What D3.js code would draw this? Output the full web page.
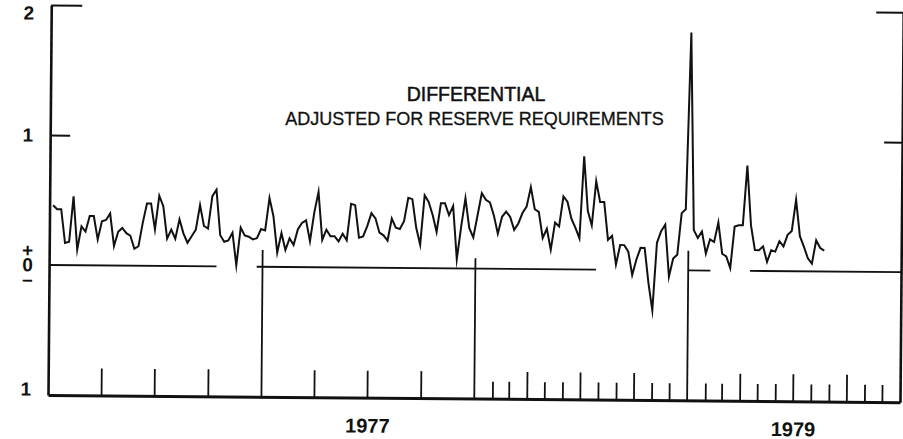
<!DOCTYPE html>
<html>
<head>
<meta charset="utf-8">
<script src="https://cdn.jsdelivr.net/npm/d3@7"></script>
<style>
  body { margin: 0; background: #fff; }
  svg { display: block; }
  text { font-family: "Liberation Sans", Arial, sans-serif; fill: #111; }
</style>
</head>
<body>
<svg width="903" height="439"></svg>
<script>
// weekly values (Wednesdays), percentage points
const values1976 = [0.46,0.43,0.43,0.17,0.18,0.53,0.12,0.30,0.26,0.38, 0.38,0.20,0.34,0.35,0.40,0.15,0.26,0.29,0.25,0.23,
  0.13,0.15,0.33,0.48,0.48,0.28,0.54,0.46,0.21,0.28, 0.21,0.36,0.25,0.18,0.23,0.28,0.47,0.31,0.29,0.54,
  0.59,0.24,0.19,0.20,0.26,0.01,0.30,0.24,0.23,0.21, 0.22,0.29];
const values1977 = [0.28,0.53,0.39,0.11,0.26,0.13,0.22,0.17,0.29,0.34, 0.36,0.20,0.42,0.58,0.21,0.29,0.24,0.24,0.20,0.26,
  0.21,0.49,0.48,0.23,0.24,0.32,0.42,0.38,0.27,0.25, 0.21,0.38,0.31,0.30,0.36,0.54,0.53,0.31,0.18,0.56,
  0.51,0.41,0.28,0.50,0.50,0.41,0.48,0.07,0.32,0.54, 0.31,0.24];
const values1978 = [0.41,0.58,0.53,0.51,0.41,0.27,0.40,0.44,0.40,0.30, 0.35,0.43,0.48,0.63,0.46,0.44,0.24,0.31,0.15,0.36,
  0.33,0.56,0.52,0.39,0.32,0.24,0.87,0.45,0.34,0.68, 0.52,0.52,0.23,0.26,0.04,0.19,0.19,0.14,-0.04,0.08,
  0.17,0.17,-0.10,-0.31,0.21,0.30,0.35,-0.05,0.09,0.12, 0.44,0.47];
const values1979 = [1.83,0.31,0.25,0.30,0.13,0.24,0.22,0.37,0.13,0.11, 0.02,0.34,0.35,0.35,0.81,0.35,0.16,0.16,0.19,0.07,
  0.16,0.15,0.23,0.19,0.28,0.31,0.55,0.27,0.19,0.10, 0.06,0.24,0.18,0.16];

const firstWeek = "1976-01-07";
const years = [1976, 1977, 1978, 1979];
const labelledYears = [1977, 1979];
const monthlyTickYears = [1978, 1979];
const yTicks = [2, 1, -1];
const yTickLabels = ["2", "1", "1"];
const zeroMarker = ["+", "0", "\u2013"];
const zeroSegments = [["1976-01-01", "1976-10-14"], ["1976-12-22", "1978-07-27"],
                      ["1979-01-01", "1979-02-08"], ["1979-04-17", "1980-01-01"]];
const dividerTops = [0.13, 0.08, 0.15];   // 1977, 1978, 1979
const title = "DIFFERENTIAL";
const subtitle = "ADJUSTED FOR RESERVE REQUIREMENTS";

const parse = d3.timeParse("%Y-%m-%d");
const allValues = [].concat(values1976, values1977, values1978, values1979);
const start = parse(firstWeek);
const data = allValues.map((v, i) => ({ date: d3.timeDay.offset(start, i * 7), v: v }));

const svg = d3.select("svg");
const plotLeft = 48, plotRight = 900, plotBottom = 395, plotTop = 5;

const x = d3.scaleTime().domain([new Date(1976, 0, 1), new Date(1980, 0, 1)]).range([plotLeft, plotRight]);
const y = d3.scaleLinear().domain([-1, 2]).range([plotBottom, plotTop]);

// the scanned chart is slightly tilted
const g = svg.append("g").attr("transform", "rotate(0.48," + plotLeft + "," + plotBottom + ")");

// bottom axis: quarter ticks, monthly ticks in later years
const quarterTicks = [];
years.forEach(yr => [3, 6, 9].forEach(m => quarterTicks.push(new Date(yr, m, 1))));
const monthTicks = [];
monthlyTickYears.forEach(yr => d3.range(12).forEach(m => {
  if (m % 3 !== 0) monthTicks.push(new Date(yr, m, 1));
}));

g.append("g")
  .attr("transform", "translate(0," + plotBottom + ")")
  .call(d3.axisBottom(x).tickValues(quarterTicks).tickSize(-27).tickSizeOuter(0).tickFormat(""))
  .call(a => a.select(".domain").attr("stroke-width", 3).attr("stroke", "#111"))
  .call(a => a.selectAll(".tick line").attr("stroke-width", 1.8).attr("stroke", "#111"));

g.append("g")
  .attr("transform", "translate(0," + plotBottom + ")")
  .call(d3.axisBottom(x).tickValues(monthTicks).tickSize(-17).tickFormat(""))
  .call(a => a.select(".domain").remove())
  .call(a => a.selectAll(".tick line").attr("stroke-width", 1.8).attr("stroke", "#111"));

// left and right frame with inward ticks
[[plotLeft, d3.axisRight], [plotRight, d3.axisLeft]].forEach(([px, ax]) => {
  g.append("g")
    .attr("transform", "translate(" + px + ",0)")
    .call(ax(y).tickValues([2]).tickSize(px === plotLeft ? 31 : 27).tickSizeOuter(0).tickFormat(""))
    .call(a => a.select(".domain").attr("stroke-width", 2.6).attr("stroke", "#111"))
    .call(a => a.selectAll(".tick line").attr("stroke-width", 2).attr("stroke", "#111"));
  g.append("g")
    .attr("transform", "translate(" + px + ",0)")
    .call(ax(y).tickValues([1]).tickSize(px === plotLeft ? 20 : 18).tickFormat(""))
    .call(a => a.select(".domain").remove())
    .call(a => a.selectAll(".tick line").attr("stroke-width", 2).attr("stroke", "#111"));
});

// y labels
const labelShift = { "2": 8, "1": 0, "-1": -6 };
g.selectAll(".ylab")
  .data(yTicks)
  .enter().append("text")
  .attr("class", "ylab")
  .attr("x", 31)
  .attr("y", d => y(d) + labelShift[d])
  .attr("dy", "0.35em")
  .attr("text-anchor", "end")
  .attr("font-size", 19)
  .attr("font-weight", "bold")
  .text((d, i) => yTickLabels[i]);

// the stacked +0- marker at zero, one text element
const marker = g.append("text")
  .attr("text-anchor", "middle")
  .attr("font-size", 19)
  .attr("font-weight", "bold");
marker.selectAll("tspan")
  .data(zeroMarker)
  .enter().append("tspan")
  .attr("x", 26.5)
  .attr("y", (d, i) => y(0) + (i - 1) * 14.5 + 6.5)
  .text(d => d);

// broken zero line
g.selectAll(".zero")
  .data(zeroSegments)
  .enter().append("line")
  .attr("class", "zero")
  .attr("x1", d => x(parse(d[0])))
  .attr("x2", d => x(parse(d[1])))
  .attr("y1", y(0))
  .attr("y2", y(0))
  .attr("stroke", "#111")
  .attr("stroke-width", 1.8);

// year dividers
g.selectAll(".divider")
  .data(years.slice(1))
  .enter().append("line")
  .attr("class", "divider")
  .attr("x1", d => x(new Date(d, 0, 1)))
  .attr("x2", d => x(new Date(d, 0, 1)))
  .attr("y1", plotBottom)
  .attr("y2", (d, i) => y(dividerTops[i]))
  .attr("stroke", "#111")
  .attr("stroke-width", 1.8);

// year labels
g.selectAll(".year")
  .data(labelledYears)
  .enter().append("text")
  .attr("class", "year")
  .attr("x", d => x(new Date(d, 6, 2)))
  .attr("y", 430)
  .attr("text-anchor", "middle")
  .attr("font-size", 20)
  .attr("font-weight", "bold")
  .text(d => d);

// the series
const line = d3.line()
  .x(d => x(d.date))
  .y(d => y(d.v));

g.append("path")
  .datum(data)
  .attr("fill", "none")
  .attr("stroke", "#111")
  .attr("stroke-width", 2)
  .attr("stroke-linejoin", "miter")
  .attr("stroke-miterlimit", 10)
  .attr("d", line);

// titles
svg.append("text")
  .attr("x", 476)
  .attr("y", 100.5)
  .attr("text-anchor", "middle")
  .attr("font-size", 19.5)
  .attr("stroke", "#111")
  .attr("stroke-width", 0.5)
  .text(title);

svg.append("text")
  .attr("x", 474.5)
  .attr("y", 125)
  .attr("text-anchor", "middle")
  .attr("font-size", 18)
  .attr("stroke", "#111")
  .attr("stroke-width", 0.3)
  .text(subtitle);
</script>
</body>
</html>
